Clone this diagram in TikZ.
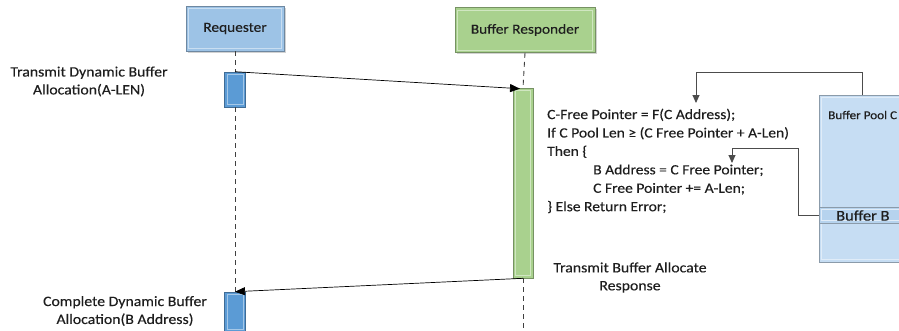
\documentclass[tikz,border=0pt]{standalone}
\usepackage{fontspec}
\setmainfont{Carlito}[FakeStretch=1.1,FakeBold=0.25]
\usetikzlibrary{arrows.meta,shadows,calc}
\definecolor{reqfill}{HTML}{9DC3E6}
\definecolor{respfill}{HTML}{A9D18E}
\definecolor{barblue}{HTML}{5B9BD5}
\definecolor{poolfill}{HTML}{C6DDF3}
\definecolor{txt}{HTML}{1E1E1E}
\tikzset{
  bevel/.style={draw=#1!70!black, line width=0.6bp,
    path picture={\draw[#1!55!white, line width=0.8bp]
      ([shift={(2.5bp,-2.5bp)}]path picture bounding box.north west) rectangle
      ([shift={(-2.5bp,2.5bp)}]path picture bounding box.south east);}},
  headbox/.style={bevel=#1, fill=#1, drop shadow={shadow xshift=1.5bp,shadow yshift=-1.5bp,opacity=0.35},
    inner sep=0pt, font=\fontsize{14}{15}\selectfont, text=txt},
  actbar/.style={bevel=#1, fill=#1, inner sep=0pt, minimum width=21bp},
  life/.style={draw=black!75, dashed, dash pattern=on 5bp off 4bp, line width=0.9bp},
  msg/.style={draw=black, line width=0.7bp, -{Triangle[length=10bp,width=8bp]}},
  link/.style={draw=black!70, line width=0.9bp, -{Triangle[length=8bp,width=7bp]}},
  lbl/.style={font=\fontsize{14.4}{18}\selectfont, text=txt, align=center, inner sep=0pt},
}
\begin{document}
\begin{tikzpicture}[x=1bp,y=-1bp]
\useasboundingbox (0,0) rectangle (899,330);
\clip (0,0) rectangle (899,330);
\fill[white] (0,0) rectangle (899,330);
% heads
\node[headbox=reqfill, minimum width=98bp, minimum height=45bp] (req) at (235,28.5) {Requester};
\node[headbox=respfill, minimum width=140bp, minimum height=45bp] (resp) at (525,30) {Buffer Responder};
% activation bars
\node[actbar=barblue, minimum height=35bp] (rb1) at (235,89.5) {};
\node[actbar=respfill, minimum width=20bp, minimum height=190bp] (sb) at (523,183) {};
\node[actbar=barblue, minimum height=40bp] (rb2) at (235,312) {};
\coordinate (sbend) at (523,330);
% lifelines
\draw[life] (req.south) -- (rb1.north);
\draw[life] (rb1.south) -- (rb2.north);
\draw[life] (resp.south) -- (sb.north);
\draw[life] (sb.south) -- (sbend);
% messages
\draw[msg] (rb1.north) -- ($(sb.north)+(-3,1)$);
\draw[msg] (sb.south) -- (rb2.north);
% labels
\node[lbl] (l1) at (89,81.5) {Transmit Dynamic Buffer\\Allocation(A-LEN)};
\node[lbl] (l2) at (630,277.5) {Transmit Buffer Allocate\\Response};
\node[lbl] (l3) at (125,311) {Complete Dynamic Buffer\\Allocation(B Address)};
% code
\node[anchor=north west, align=left, inner sep=0pt, text=txt,
      font=\fontsize{14.2}{18.5}\selectfont] (code) at (547,108.5)
 {C-Free Pointer = F(C Address);\\
  If C Pool Len ≥ (C Free Pointer + A-Len)\\
  Then \{\\
  \hspace*{46bp}B Address = C Free Pointer;\\
  \hspace*{46bp}C Free Pointer += A-Len;\\
  \} Else Return Error;};
% buffer pool
\node[bevel=poolfill, fill=poolfill, anchor=north west, minimum width=122bp, minimum height=167bp, inner sep=0pt] (pool) at (819,95) {};
\node[anchor=west, inner sep=0pt, text=txt, font=\fontsize{12}{13}\selectfont] (poolt) at (828,115) {Buffer Pool C};
\node[bevel=poolfill, fill=poolfill!85!barblue, anchor=north west, minimum width=122bp, minimum height=16bp, inner sep=0pt] (bufb) at (819,207) {};
\node[anchor=west, inner sep=0pt, text=txt, font=\fontsize{15}{16}\selectfont] (bufbt) at (836,215.5) {Buffer B};
% links
\coordinate (t1) at (696,103);
\coordinate (t2) at (732,163);
\draw[link] (pool.north west -| 862,0) |- (t1 |- 0,72) -- (t1);
\draw[link] (bufb.west) -| (798,148) -| (t2);
\end{tikzpicture}
\end{document}
